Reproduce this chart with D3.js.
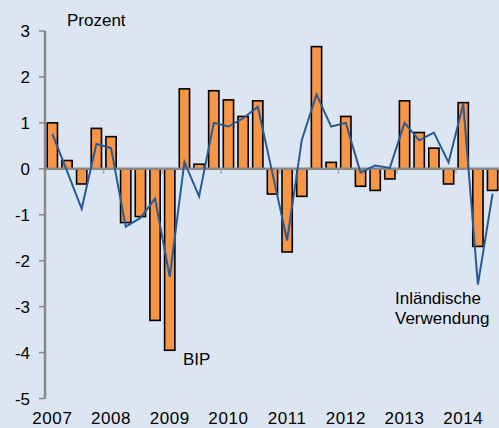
<!DOCTYPE html>
<html>
<head>
<meta charset="utf-8">
<script src="https://cdn.jsdelivr.net/npm/d3@7"></script>
<style>
  body { margin: 0; background: #dce6f2; }
  svg { display: block; }
</style>
</head>
<body>
<div id="chart"></div>
<script>
// quarters 2007Q1 .. 2014Q4
var quarters = ["2007Q1", "2007Q2", "2007Q3", "2007Q4",
    "2008Q1", "2008Q2", "2008Q3", "2008Q4",
    "2009Q1", "2009Q2", "2009Q3", "2009Q4",
    "2010Q1", "2010Q2", "2010Q3", "2010Q4",
    "2011Q1", "2011Q2", "2011Q3", "2011Q4",
    "2012Q1", "2012Q2", "2012Q3", "2012Q4",
    "2013Q1", "2013Q2", "2013Q3", "2013Q4",
    "2014Q1", "2014Q2", "2014Q3", "2014Q4"];
// BIP (bars)
var bip = [1.0, 0.18, -0.33, 0.88, 0.7, -1.17, -1.04, -3.3,
    -3.95, 1.74, 0.1, 1.7, 1.5, 1.14, 1.48, -0.55,
    -1.81, -0.6, 2.66, 0.14, 1.14, -0.38, -0.47, -0.22,
    1.48, 0.79, 0.45, -0.33, 1.44, -1.69, -0.47];
// Inländische Verwendung (line)
var inland = [0.76, -0.05, -0.87, 0.54, 0.45, -1.26, -1.07, -0.65,
    -2.35, 0.15, -0.6, 1.0, 0.92, 1.1, 1.35, -0.1,
    -1.56, 0.63, 1.62, 0.92, 1.0, -0.08, 0.07, 0.02,
    1.0, 0.62, 0.79, 0.14, 1.41, -2.52, -0.54];
var years = ["2007", "2008", "2009", "2010", "2011", "2012", "2013", "2014"];
var yTicks = [3, 2, 1, 0, -1, -2, -3, -4, -5];

var width = 499, height = 428;
var font = "Liberation Sans, Arial, sans-serif";

var svg = d3.select("#chart").append("svg")
    .attr("width", width)
    .attr("height", height);

svg.append("rect")
    .attr("width", width)
    .attr("height", height)
    .attr("fill", "#dce6f2");

var x = d3.scaleBand()
    .domain(quarters)
    .range([45, 514.6])
    .paddingInner(0.3)
    .paddingOuter(0.15);

var y = d3.scaleLinear()
    .domain([-5, 3])
    .range([398.5, 31]);

function xc(q) { return x(q) + x.bandwidth() / 2; }
function xStep(i) { return 45 + i * (514.6 - 45) / quarters.length; }

// bars
svg.selectAll(".bar")
    .data(bip)
    .join("rect")
    .attr("class", "bar")
    .attr("x", function(d, i) { return x(quarters[i]); })
    .attr("width", x.bandwidth())
    .attr("y", function(d) { return y(Math.max(0, d)); })
    .attr("height", function(d) { return Math.abs(y(d) - y(0)); })
    .attr("fill", "#f79646")
    .attr("stroke", "#000")
    .attr("stroke-width", 1.6);

// y axis
svg.append("line")
    .attr("x1", 45).attr("x2", 45)
    .attr("y1", y(3)).attr("y2", y(-5))
    .attr("stroke", "#888")
    .attr("stroke-width", 2.5);

svg.selectAll(".ytick")
    .data(yTicks)
    .join("line")
    .attr("class", "ytick")
    .attr("x1", 39).attr("x2", 45)
    .attr("y1", function(d) { return y(d); })
    .attr("y2", function(d) { return y(d); })
    .attr("stroke", "#888")
    .attr("stroke-width", 1.5);

svg.selectAll(".ylab")
    .data(yTicks)
    .join("text")
    .attr("class", "ylab")
    .attr("x", 30)
    .attr("y", function(d) { return y(d); })
    .attr("dy", "0.36em")
    .attr("text-anchor", "end")
    .attr("font-family", font)
    .attr("font-size", "17px")
    .attr("fill", "#000")
    .text(function(d) { return d; });

// x axis at zero
svg.append("line")
    .attr("x1", 45).attr("x2", width)
    .attr("y1", y(0)).attr("y2", y(0))
    .attr("stroke", "#888")
    .attr("stroke-width", 2.5);

svg.selectAll(".xtick")
    .data(years.slice(1))
    .join("line")
    .attr("class", "xtick")
    .attr("x1", function(d, i) { return xStep((i + 1) * 4); })
    .attr("x2", function(d, i) { return xStep((i + 1) * 4); })
    .attr("y1", y(0)).attr("y2", y(0) + 5)
    .attr("stroke", "#aaa")
    .attr("stroke-width", 1.5);

svg.selectAll(".xlab")
    .data(years)
    .join("text")
    .attr("class", "xlab")
    .attr("x", function(d) { return xc(d + "Q1"); })
    .attr("y", 424)
    .attr("text-anchor", "middle")
    .attr("font-family", font)
    .attr("font-size", "17px")
    .attr("letter-spacing", "0.6px")
    .attr("fill", "#000")
    .text(function(d) { return d; });

// line
svg.append("path")
    .datum(inland)
    .attr("fill", "none")
    .attr("stroke", "#2a5a93")
    .attr("stroke-width", 2)
    .attr("stroke-linejoin", "miter")
    .attr("d", d3.line()
        .x(function(d, i) { return xc(quarters[i]); })
        .y(function(d) { return y(d); })
    );

// labels
svg.append("text")
    .attr("x", 67).attr("y", 26)
    .attr("font-family", font)
    .attr("font-size", "17px")
    .text("Prozent");

svg.append("text")
    .attr("x", 183).attr("y", 365)
    .attr("font-family", font)
    .attr("font-size", "17px")
    .text("BIP");

var lbl = svg.append("text")
    .attr("font-family", font)
    .attr("font-size", "17px");
lbl.append("tspan").attr("x", 395).attr("y", 304).text("Inländische");
lbl.append("tspan").attr("x", 395).attr("y", 324).text("Verwendung");
</script>
</body>
</html>
